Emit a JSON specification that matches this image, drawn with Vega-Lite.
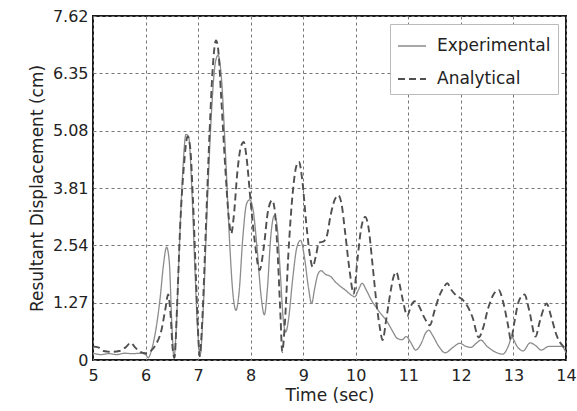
{
  "$schema": "https://vega.github.io/schema/vega-lite/v6.json",
  "width": 473,
  "height": 344,
  "autosize": {"type": "none"},
  "padding": {"left": 93, "top": 16, "right": 11, "bottom": 51},
  "background": "white",
  "config": {
    "font": "DejaVu Sans",
    "view": {"stroke": "#1a1a1a", "strokeWidth": 2},
    "axis": {
      "domain": false,
      "ticks": false,
      "grid": true,
      "gridColor": "#777777",
      "gridDash": [3, 3],
      "gridWidth": 1,
      "labelFontSize": 16,
      "labelColor": "#222222",
      "titleFontSize": 17,
      "titleFontWeight": "normal",
      "titleColor": "#222222"
    },
    "legend": {
      "labelFontSize": 17,
      "labelColor": "#222222"
    }
  },
  "data": {
    "values": [
      {"t": 5.0, "y": 0.15, "s": "Experimental"},
      {"t": 5.15, "y": 0.12, "s": "Experimental"},
      {"t": 5.3, "y": 0.14, "s": "Experimental"},
      {"t": 5.45, "y": 0.12, "s": "Experimental"},
      {"t": 5.6, "y": 0.15, "s": "Experimental"},
      {"t": 5.75, "y": 0.14, "s": "Experimental"},
      {"t": 5.9, "y": 0.15, "s": "Experimental"},
      {"t": 6.0, "y": 0.12, "s": "Experimental"},
      {"t": 6.05, "y": 0.05, "s": "Experimental"},
      {"t": 6.12, "y": 0.25, "s": "Experimental"},
      {"t": 6.2, "y": 0.7, "s": "Experimental"},
      {"t": 6.28, "y": 1.4, "s": "Experimental"},
      {"t": 6.34, "y": 2.1, "s": "Experimental"},
      {"t": 6.4, "y": 2.5, "s": "Experimental"},
      {"t": 6.45, "y": 2.2, "s": "Experimental"},
      {"t": 6.5, "y": 0.8, "s": "Experimental"},
      {"t": 6.54, "y": 0.05, "s": "Experimental"},
      {"t": 6.58, "y": 0.6, "s": "Experimental"},
      {"t": 6.64, "y": 2.4, "s": "Experimental"},
      {"t": 6.7, "y": 4.0, "s": "Experimental"},
      {"t": 6.77, "y": 5.0, "s": "Experimental"},
      {"t": 6.82, "y": 4.95, "s": "Experimental"},
      {"t": 6.88, "y": 3.8, "s": "Experimental"},
      {"t": 6.94, "y": 2.0, "s": "Experimental"},
      {"t": 7.0, "y": 0.5, "s": "Experimental"},
      {"t": 7.04, "y": 0.12, "s": "Experimental"},
      {"t": 7.1, "y": 1.2, "s": "Experimental"},
      {"t": 7.18, "y": 3.6, "s": "Experimental"},
      {"t": 7.26, "y": 5.6, "s": "Experimental"},
      {"t": 7.33, "y": 6.6, "s": "Experimental"},
      {"t": 7.38, "y": 6.75, "s": "Experimental"},
      {"t": 7.44, "y": 6.3, "s": "Experimental"},
      {"t": 7.52, "y": 4.6, "s": "Experimental"},
      {"t": 7.6, "y": 2.6, "s": "Experimental"},
      {"t": 7.66, "y": 1.5, "s": "Experimental"},
      {"t": 7.72, "y": 1.1, "s": "Experimental"},
      {"t": 7.78, "y": 1.5, "s": "Experimental"},
      {"t": 7.85, "y": 2.7, "s": "Experimental"},
      {"t": 7.92, "y": 3.45, "s": "Experimental"},
      {"t": 7.98, "y": 3.55, "s": "Experimental"},
      {"t": 8.05, "y": 3.3, "s": "Experimental"},
      {"t": 8.12, "y": 2.5, "s": "Experimental"},
      {"t": 8.2, "y": 1.4, "s": "Experimental"},
      {"t": 8.26, "y": 1.0, "s": "Experimental"},
      {"t": 8.32, "y": 1.6, "s": "Experimental"},
      {"t": 8.38, "y": 2.7, "s": "Experimental"},
      {"t": 8.45, "y": 3.2, "s": "Experimental"},
      {"t": 8.5, "y": 3.0, "s": "Experimental"},
      {"t": 8.56, "y": 2.0, "s": "Experimental"},
      {"t": 8.62, "y": 0.9, "s": "Experimental"},
      {"t": 8.67, "y": 0.62, "s": "Experimental"},
      {"t": 8.72, "y": 0.9, "s": "Experimental"},
      {"t": 8.8, "y": 1.8, "s": "Experimental"},
      {"t": 8.88, "y": 2.5, "s": "Experimental"},
      {"t": 8.95, "y": 2.65, "s": "Experimental"},
      {"t": 9.02, "y": 2.3, "s": "Experimental"},
      {"t": 9.1, "y": 1.6, "s": "Experimental"},
      {"t": 9.16, "y": 1.25, "s": "Experimental"},
      {"t": 9.22, "y": 1.6, "s": "Experimental"},
      {"t": 9.28, "y": 1.9, "s": "Experimental"},
      {"t": 9.34, "y": 1.98, "s": "Experimental"},
      {"t": 9.42, "y": 1.9, "s": "Experimental"},
      {"t": 9.52, "y": 1.85, "s": "Experimental"},
      {"t": 9.62, "y": 1.72, "s": "Experimental"},
      {"t": 9.72, "y": 1.62, "s": "Experimental"},
      {"t": 9.8, "y": 1.55, "s": "Experimental"},
      {"t": 9.9, "y": 1.45, "s": "Experimental"},
      {"t": 9.98, "y": 1.4, "s": "Experimental"},
      {"t": 10.05, "y": 1.55, "s": "Experimental"},
      {"t": 10.12, "y": 1.7, "s": "Experimental"},
      {"t": 10.2, "y": 1.55, "s": "Experimental"},
      {"t": 10.3, "y": 1.32, "s": "Experimental"},
      {"t": 10.38, "y": 1.18, "s": "Experimental"},
      {"t": 10.48, "y": 1.02, "s": "Experimental"},
      {"t": 10.58, "y": 0.88, "s": "Experimental"},
      {"t": 10.68, "y": 0.68, "s": "Experimental"},
      {"t": 10.79, "y": 0.48, "s": "Experimental"},
      {"t": 10.88, "y": 0.45, "s": "Experimental"},
      {"t": 10.96, "y": 0.52, "s": "Experimental"},
      {"t": 11.05, "y": 0.38, "s": "Experimental"},
      {"t": 11.14, "y": 0.22, "s": "Experimental"},
      {"t": 11.25, "y": 0.38, "s": "Experimental"},
      {"t": 11.33, "y": 0.6, "s": "Experimental"},
      {"t": 11.39, "y": 0.66, "s": "Experimental"},
      {"t": 11.46, "y": 0.55, "s": "Experimental"},
      {"t": 11.58, "y": 0.3, "s": "Experimental"},
      {"t": 11.7, "y": 0.16, "s": "Experimental"},
      {"t": 11.85, "y": 0.28, "s": "Experimental"},
      {"t": 11.98, "y": 0.37, "s": "Experimental"},
      {"t": 12.1, "y": 0.3, "s": "Experimental"},
      {"t": 12.19, "y": 0.28, "s": "Experimental"},
      {"t": 12.3, "y": 0.38, "s": "Experimental"},
      {"t": 12.38, "y": 0.44, "s": "Experimental"},
      {"t": 12.5, "y": 0.3, "s": "Experimental"},
      {"t": 12.65, "y": 0.18, "s": "Experimental"},
      {"t": 12.8, "y": 0.13, "s": "Experimental"},
      {"t": 12.9, "y": 0.3, "s": "Experimental"},
      {"t": 12.97, "y": 0.5, "s": "Experimental"},
      {"t": 13.07, "y": 0.3, "s": "Experimental"},
      {"t": 13.18, "y": 0.2, "s": "Experimental"},
      {"t": 13.32, "y": 0.38, "s": "Experimental"},
      {"t": 13.42, "y": 0.32, "s": "Experimental"},
      {"t": 13.53, "y": 0.22, "s": "Experimental"},
      {"t": 13.67, "y": 0.3, "s": "Experimental"},
      {"t": 13.8, "y": 0.3, "s": "Experimental"},
      {"t": 13.92, "y": 0.3, "s": "Experimental"},
      {"t": 14.0, "y": 0.16, "s": "Experimental"},
      {"t": 5.0, "y": 0.3, "s": "Analytical"},
      {"t": 5.1, "y": 0.28, "s": "Analytical"},
      {"t": 5.2, "y": 0.2, "s": "Analytical"},
      {"t": 5.35, "y": 0.18, "s": "Analytical"},
      {"t": 5.5, "y": 0.2, "s": "Analytical"},
      {"t": 5.62, "y": 0.28, "s": "Analytical"},
      {"t": 5.72, "y": 0.38, "s": "Analytical"},
      {"t": 5.8, "y": 0.28, "s": "Analytical"},
      {"t": 5.9, "y": 0.18, "s": "Analytical"},
      {"t": 6.0, "y": 0.15, "s": "Analytical"},
      {"t": 6.1, "y": 0.2, "s": "Analytical"},
      {"t": 6.2, "y": 0.35, "s": "Analytical"},
      {"t": 6.3, "y": 0.65, "s": "Analytical"},
      {"t": 6.38, "y": 1.15, "s": "Analytical"},
      {"t": 6.43, "y": 1.45, "s": "Analytical"},
      {"t": 6.47, "y": 1.1, "s": "Analytical"},
      {"t": 6.52, "y": 0.2, "s": "Analytical"},
      {"t": 6.55, "y": 0.05, "s": "Analytical"},
      {"t": 6.6, "y": 1.2, "s": "Analytical"},
      {"t": 6.66, "y": 3.0, "s": "Analytical"},
      {"t": 6.73, "y": 4.3, "s": "Analytical"},
      {"t": 6.8, "y": 4.95, "s": "Analytical"},
      {"t": 6.85, "y": 4.7, "s": "Analytical"},
      {"t": 6.9, "y": 3.6, "s": "Analytical"},
      {"t": 6.96, "y": 1.8, "s": "Analytical"},
      {"t": 7.0, "y": 0.6, "s": "Analytical"},
      {"t": 7.03, "y": 0.08, "s": "Analytical"},
      {"t": 7.08, "y": 0.9, "s": "Analytical"},
      {"t": 7.15, "y": 3.0, "s": "Analytical"},
      {"t": 7.22, "y": 5.1, "s": "Analytical"},
      {"t": 7.28, "y": 6.5, "s": "Analytical"},
      {"t": 7.34, "y": 7.08, "s": "Analytical"},
      {"t": 7.38, "y": 6.9, "s": "Analytical"},
      {"t": 7.44, "y": 5.8, "s": "Analytical"},
      {"t": 7.52, "y": 4.2, "s": "Analytical"},
      {"t": 7.58, "y": 3.2, "s": "Analytical"},
      {"t": 7.63, "y": 2.8, "s": "Analytical"},
      {"t": 7.68, "y": 3.2, "s": "Analytical"},
      {"t": 7.75, "y": 4.2, "s": "Analytical"},
      {"t": 7.82, "y": 4.75, "s": "Analytical"},
      {"t": 7.87, "y": 4.83, "s": "Analytical"},
      {"t": 7.92, "y": 4.5, "s": "Analytical"},
      {"t": 8.0, "y": 3.5, "s": "Analytical"},
      {"t": 8.08, "y": 2.6, "s": "Analytical"},
      {"t": 8.17, "y": 1.99, "s": "Analytical"},
      {"t": 8.25, "y": 2.5, "s": "Analytical"},
      {"t": 8.33, "y": 3.3, "s": "Analytical"},
      {"t": 8.41, "y": 3.54, "s": "Analytical"},
      {"t": 8.46, "y": 3.3, "s": "Analytical"},
      {"t": 8.52, "y": 2.2, "s": "Analytical"},
      {"t": 8.57, "y": 0.9, "s": "Analytical"},
      {"t": 8.6, "y": 0.18, "s": "Analytical"},
      {"t": 8.65, "y": 0.8, "s": "Analytical"},
      {"t": 8.72, "y": 2.4, "s": "Analytical"},
      {"t": 8.8, "y": 3.7, "s": "Analytical"},
      {"t": 8.87, "y": 4.3, "s": "Analytical"},
      {"t": 8.92, "y": 4.39, "s": "Analytical"},
      {"t": 8.98, "y": 4.0, "s": "Analytical"},
      {"t": 9.06, "y": 3.0, "s": "Analytical"},
      {"t": 9.13, "y": 2.3, "s": "Analytical"},
      {"t": 9.18, "y": 2.06, "s": "Analytical"},
      {"t": 9.24, "y": 2.3, "s": "Analytical"},
      {"t": 9.3, "y": 2.6, "s": "Analytical"},
      {"t": 9.38, "y": 2.62, "s": "Analytical"},
      {"t": 9.45, "y": 2.75, "s": "Analytical"},
      {"t": 9.52, "y": 3.2, "s": "Analytical"},
      {"t": 9.6, "y": 3.55, "s": "Analytical"},
      {"t": 9.67, "y": 3.65, "s": "Analytical"},
      {"t": 9.73, "y": 3.45, "s": "Analytical"},
      {"t": 9.8, "y": 2.8, "s": "Analytical"},
      {"t": 9.88, "y": 2.0, "s": "Analytical"},
      {"t": 9.96, "y": 1.47, "s": "Analytical"},
      {"t": 10.03, "y": 2.2, "s": "Analytical"},
      {"t": 10.1, "y": 2.9, "s": "Analytical"},
      {"t": 10.18, "y": 3.17, "s": "Analytical"},
      {"t": 10.24, "y": 2.95, "s": "Analytical"},
      {"t": 10.32, "y": 2.1, "s": "Analytical"},
      {"t": 10.4, "y": 1.2, "s": "Analytical"},
      {"t": 10.46, "y": 0.7, "s": "Analytical"},
      {"t": 10.51, "y": 0.44, "s": "Analytical"},
      {"t": 10.58, "y": 0.9, "s": "Analytical"},
      {"t": 10.66, "y": 1.5, "s": "Analytical"},
      {"t": 10.72, "y": 1.85, "s": "Analytical"},
      {"t": 10.77, "y": 1.95, "s": "Analytical"},
      {"t": 10.83, "y": 1.7, "s": "Analytical"},
      {"t": 10.9, "y": 1.3, "s": "Analytical"},
      {"t": 10.98, "y": 0.98, "s": "Analytical"},
      {"t": 11.05, "y": 1.2, "s": "Analytical"},
      {"t": 11.12, "y": 1.3, "s": "Analytical"},
      {"t": 11.2, "y": 1.2, "s": "Analytical"},
      {"t": 11.3, "y": 0.95, "s": "Analytical"},
      {"t": 11.41, "y": 0.77, "s": "Analytical"},
      {"t": 11.5, "y": 1.1, "s": "Analytical"},
      {"t": 11.6, "y": 1.45, "s": "Analytical"},
      {"t": 11.68, "y": 1.62, "s": "Analytical"},
      {"t": 11.74, "y": 1.7, "s": "Analytical"},
      {"t": 11.82, "y": 1.55, "s": "Analytical"},
      {"t": 11.92, "y": 1.42, "s": "Analytical"},
      {"t": 12.02, "y": 1.35, "s": "Analytical"},
      {"t": 12.12, "y": 1.2, "s": "Analytical"},
      {"t": 12.22, "y": 0.95, "s": "Analytical"},
      {"t": 12.34, "y": 0.5, "s": "Analytical"},
      {"t": 12.42, "y": 0.7, "s": "Analytical"},
      {"t": 12.52, "y": 1.15, "s": "Analytical"},
      {"t": 12.62, "y": 1.45, "s": "Analytical"},
      {"t": 12.72, "y": 1.55, "s": "Analytical"},
      {"t": 12.8, "y": 1.3, "s": "Analytical"},
      {"t": 12.9, "y": 0.75, "s": "Analytical"},
      {"t": 12.95, "y": 0.45, "s": "Analytical"},
      {"t": 13.02, "y": 0.85, "s": "Analytical"},
      {"t": 13.1, "y": 1.3, "s": "Analytical"},
      {"t": 13.21, "y": 1.45, "s": "Analytical"},
      {"t": 13.3, "y": 1.1, "s": "Analytical"},
      {"t": 13.42, "y": 0.52, "s": "Analytical"},
      {"t": 13.5, "y": 0.85, "s": "Analytical"},
      {"t": 13.58, "y": 1.15, "s": "Analytical"},
      {"t": 13.63, "y": 1.25, "s": "Analytical"},
      {"t": 13.72, "y": 0.95, "s": "Analytical"},
      {"t": 13.82, "y": 0.55, "s": "Analytical"},
      {"t": 13.88, "y": 0.4, "s": "Analytical"},
      {"t": 13.95, "y": 0.3, "s": "Analytical"},
      {"t": 14.0, "y": 0.25, "s": "Analytical"}
    ]
  },
  "mark": {"type": "line", "interpolate": "monotone", "clip": true},
  "encoding": {
    "x": {
      "field": "t",
      "type": "quantitative",
      "scale": {"domain": [5, 14], "nice": false, "zero": false},
      "axis": {
        "title": "Time (sec)",
        "values": [5, 6, 7, 8, 9, 10, 11, 12, 13, 14],
        "labelPadding": 7,
        "titlePadding": 4,
        "labelFlush": false
      }
    },
    "y": {
      "field": "y",
      "type": "quantitative",
      "scale": {"domain": [0, 7.62], "nice": false},
      "axis": {
        "title": "Resultant Displacement (cm)",
        "values": [0, 1.27, 2.54, 3.81, 5.08, 6.35, 7.62],
        "labelExpr": "datum.value == 0 ? '0' : format(datum.value, '.2f')",
        "labelPadding": 5,
        "titlePadding": 6,
        "labelFlush": false
      }
    },
    "color": {
      "field": "s",
      "type": "nominal",
      "sort": ["Experimental", "Analytical"],
      "scale": {"domain": ["Experimental", "Analytical"], "range": ["#8c8c8c", "#505050"]},
      "legend": {
        "title": null,
        "orient": "top-right",
        "offset": 8,
        "fillColor": "white",
        "strokeColor": "#bbbbbb",
        "padding": 7,
        "rowPadding": 10,
        "symbolType": "stroke",
        "symbolSize": 784,
        "symbolStrokeWidth": 1.6,
        "labelOffset": 10
      }
    },
    "strokeDash": {
      "field": "s",
      "type": "nominal",
      "sort": ["Experimental", "Analytical"],
      "scale": {"domain": ["Experimental", "Analytical"], "range": [[1, 0], [7, 4]]},
      "legend": {
        "title": null,
        "orient": "top-right",
        "offset": 8,
        "fillColor": "white",
        "strokeColor": "#bbbbbb",
        "padding": 7,
        "rowPadding": 10,
        "symbolType": "stroke",
        "symbolSize": 784,
        "symbolStrokeWidth": 1.6,
        "labelOffset": 10
      }
    },
    "strokeWidth": {
      "field": "s",
      "type": "nominal",
      "scale": {"domain": ["Experimental", "Analytical"], "range": [1.3, 1.9]},
      "legend": null
    }
  }
}
